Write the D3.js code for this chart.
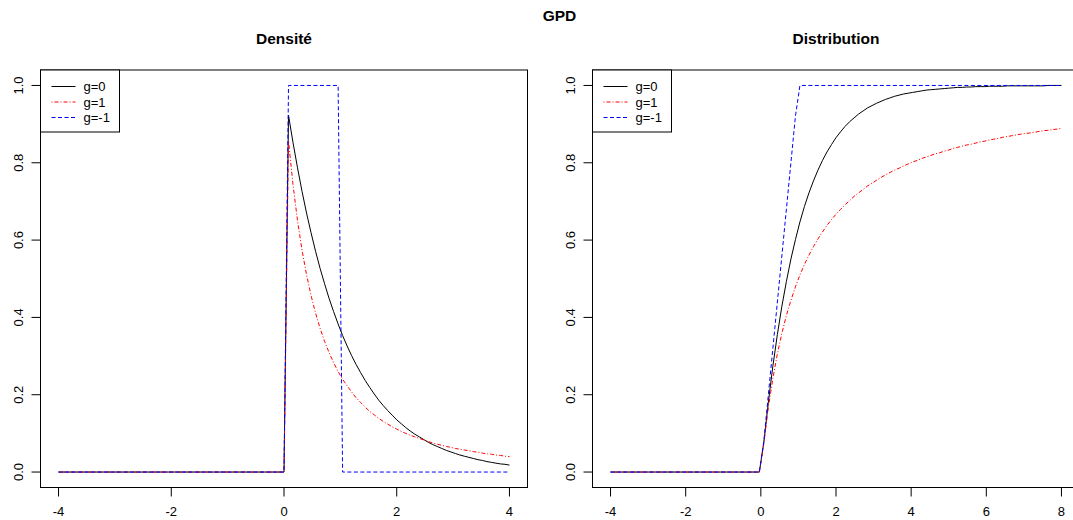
<!DOCTYPE html>
<html lang="fr">
  <head>
    <meta charset="UTF-8" />
    <title>GPD</title>
    <script src="https://d3js.org/d3.v7.min.js"></script>
    <style>
      body { margin: 0; background: #fff; }
      text { font-family: "Liberation Sans", Arial, sans-serif; fill: #000; }
      .title { font-weight: bold; font-size: 15.5px; }
      .tick-label { font-size: 13px; }
      .legend-text { font-size: 13px; }
    </style>
  </head>
  <body>
    <svg width="1073" height="520"></svg>
    <script>
      // densité : grille x (pas 0.08 à partir de 0)
      const densX = [-4, 0,
        0.08, 0.16, 0.24, 0.32, 0.40, 0.48, 0.56, 0.64, 0.72, 0.80,
        0.88, 0.96, 1.04, 1.12, 1.20, 1.28, 1.36, 1.44, 1.52, 1.60,
        1.68, 1.76, 1.84, 1.92, 2.00, 2.08, 2.16, 2.24, 2.32, 2.40,
        2.48, 2.56, 2.64, 2.72, 2.80, 2.88, 2.96, 3.04, 3.12, 3.20,
        3.28, 3.36, 3.44, 3.52, 3.60, 3.68, 3.76, 3.84, 3.92, 4.00];
      const densG0 = [0, 0,
        0.923, 0.852, 0.787, 0.726, 0.670, 0.619, 0.571, 0.527, 0.487, 0.449,
        0.415, 0.383, 0.353, 0.326, 0.301, 0.278, 0.257, 0.237, 0.219, 0.202,
        0.186, 0.172, 0.159, 0.147, 0.135, 0.125, 0.115, 0.106, 0.098, 0.091,
        0.084, 0.077, 0.071, 0.066, 0.061, 0.056, 0.052, 0.048, 0.044, 0.041,
        0.038, 0.035, 0.032, 0.030, 0.027, 0.025, 0.023, 0.021, 0.020, 0.018];
      const densG1 = [0, 0,
        0.857, 0.743, 0.650, 0.574, 0.510, 0.457, 0.411, 0.372, 0.338, 0.309,
        0.283, 0.260, 0.240, 0.223, 0.207, 0.192, 0.180, 0.168, 0.157, 0.148,
        0.139, 0.131, 0.124, 0.117, 0.111, 0.105, 0.100, 0.095, 0.091, 0.087,
        0.083, 0.079, 0.075, 0.072, 0.069, 0.066, 0.064, 0.061, 0.059, 0.057,
        0.055, 0.053, 0.051, 0.049, 0.047, 0.046, 0.044, 0.043, 0.041, 0.040];
      const densGm1X = [-4, 0, 0.08, 0.96, 1.04, 4];
      const densGm1 = [0, 0, 1, 1, 0, 0];

      // distribution : grille x (pas 0.12)
      const cdfX = [-4, -0.04,
        0.08, 0.20, 0.32, 0.44, 0.56, 0.68, 0.80, 0.92, 1.04, 1.16,
        1.28, 1.40, 1.52, 1.64, 1.76, 1.88, 2.00, 2.12, 2.24, 2.36,
        2.48, 2.60, 2.72, 2.84, 2.96, 3.08, 3.20, 3.32, 3.44, 3.56,
        3.68, 3.80, 3.92, 4.04, 4.16, 4.28, 4.40, 4.52, 4.64, 4.76,
        4.88, 5.00, 5.12, 5.24, 5.36, 5.48, 5.60, 5.72, 5.84, 5.96,
        6.08, 6.20, 6.32, 6.44, 6.56, 6.68, 6.80, 6.92, 7.04, 7.16,
        7.28, 7.40, 7.52, 7.64, 7.76, 7.88, 8.00];
      const cdfG0 = [0, 0,
        0.077, 0.181, 0.274, 0.356, 0.429, 0.493, 0.551, 0.601, 0.647, 0.687,
        0.722, 0.753, 0.781, 0.806, 0.828, 0.847, 0.865, 0.880, 0.894, 0.906,
        0.916, 0.926, 0.934, 0.942, 0.948, 0.954, 0.959, 0.964, 0.968, 0.972,
        0.975, 0.978, 0.980, 0.982, 0.984, 0.986, 0.988, 0.989, 0.990, 0.991,
        0.992, 0.993, 0.994, 0.995, 0.995, 0.996, 0.996, 0.997, 0.997, 0.997,
        0.998, 0.998, 0.998, 0.998, 0.999, 0.999, 0.999, 0.999, 0.999, 0.999,
        0.999, 0.999, 0.999, 1.000, 1.000, 1.000, 1.000];
      const cdfG1 = [0, 0,
        0.074, 0.167, 0.242, 0.306, 0.359, 0.405, 0.444, 0.479, 0.510, 0.537,
        0.561, 0.583, 0.603, 0.621, 0.638, 0.653, 0.667, 0.679, 0.691, 0.702,
        0.713, 0.722, 0.731, 0.740, 0.747, 0.755, 0.762, 0.769, 0.775, 0.781,
        0.786, 0.792, 0.797, 0.802, 0.806, 0.811, 0.815, 0.819, 0.823, 0.826,
        0.830, 0.833, 0.837, 0.840, 0.843, 0.846, 0.848, 0.851, 0.854, 0.856,
        0.859, 0.861, 0.863, 0.866, 0.868, 0.870, 0.872, 0.874, 0.876, 0.877,
        0.879, 0.881, 0.883, 0.884, 0.886, 0.887, 0.889];
      const cdfGm1X = [-4, -0.04, 0.08, 0.92, 1.04, 8];
      const cdfGm1 = [0, 0, 0.08, 0.92, 1, 1];

      const legendLabels = ["g=0", "g=1", "g=-1"];
      const colors = ["#000000", "#ff0000", "#0000ff"];
      const dashes = [null, "1,2,4,2", "4,2.5"];
      const yTicks = [0, 0.2, 0.4, 0.6, 0.8, 1.0];

      const svg = d3.select("svg");
      const plotTop = 70, plotBottom = 487.5;

      const y = d3.scaleLinear().domain([-0.04, 1.04]).range([plotBottom, plotTop]);

      function panel(opts) {
        const x = d3.scaleLinear().domain(opts.xDomain).range([opts.left, opts.right]);
        const g = svg.append("g");

        // courbes
        const line = d3.line().x(d => x(d[0])).y(d => y(d[1]));
        opts.series.forEach((s, i) => {
          g.append("path")
            .datum(d3.zip(s.x, s.y))
            .attr("d", line)
            .attr("fill", "none")
            .attr("stroke", colors[i])
            .attr("stroke-width", 1)
            .attr("stroke-dasharray", dashes[i]);
        });

        // cadre
        g.append("rect")
          .attr("x", opts.left).attr("y", plotTop)
          .attr("width", opts.right - opts.left).attr("height", plotBottom - plotTop)
          .attr("fill", "none").attr("stroke", "#000").attr("stroke-width", 1);

        // axe x
        const xTicks = opts.xTicks;
        g.selectAll(".xt").data(xTicks).enter().append("line")
          .attr("x1", d => x(d)).attr("x2", d => x(d))
          .attr("y1", plotBottom).attr("y2", plotBottom + 9)
          .attr("stroke", "#000");
        g.selectAll(".xl").data(xTicks).enter().append("text")
          .attr("class", "tick-label")
          .attr("x", d => x(d)).attr("y", 516)
          .attr("text-anchor", "middle")
          .text(d => String(d));

        // axe y
        g.selectAll(".yt").data(yTicks).enter().append("line")
          .attr("x1", opts.left - 9).attr("x2", opts.left)
          .attr("y1", d => y(d)).attr("y2", d => y(d))
          .attr("stroke", "#000");
        g.selectAll(".yl").data(yTicks).enter().append("text")
          .attr("class", "tick-label")
          .attr("transform", d => `translate(${opts.left - 18},${y(d)}) rotate(-90)`)
          .attr("text-anchor", "middle")
          .text(d => d.toFixed(1));

        // titre
        g.append("text").attr("class", "title")
          .attr("x", (opts.left + opts.right) / 2).attr("y", 43.5)
          .attr("text-anchor", "middle").text(opts.title);

        // légende
        const lg = g.append("g").attr("transform", `translate(${opts.left},${plotTop})`);
        lg.append("rect").attr("width", 79).attr("height", 62)
          .attr("fill", "#fff").attr("stroke", "#000").attr("stroke-width", 1);
        legendLabels.forEach((lab, i) => {
          const ly = 16.5 + i * 15.5;
          lg.append("line")
            .attr("x1", 11).attr("x2", 35).attr("y1", ly).attr("y2", ly)
            .attr("stroke", colors[i]).attr("stroke-dasharray", dashes[i]);
          lg.append("text").attr("class", "legend-text")
            .attr("x", 43).attr("y", ly + 4.5).text(lab);
        });
      }

      panel({
        title: "Densité",
        left: 40.5, right: 527.5,
        xDomain: [-4.32, 4.32],
        xTicks: [-4, -2, 0, 2, 4],
        series: [
          { x: densX, y: densG0 },
          { x: densX, y: densG1 },
          { x: densGm1X, y: densGm1 }
        ]
      });

      panel({
        title: "Distribution",
        left: 592.5, right: 1079.5,
        xDomain: [-4.48, 8.48],
        xTicks: [-4, -2, 0, 2, 4, 6, 8],
        series: [
          { x: cdfX, y: cdfG0 },
          { x: cdfX, y: cdfG1 },
          { x: cdfGm1X, y: cdfGm1 }
        ]
      });

      svg.append("text").attr("class", "title")
        .attr("x", 559.5).attr("y", 21)
        .attr("text-anchor", "middle").text("GPD");
    </script>
  </body>
</html>
